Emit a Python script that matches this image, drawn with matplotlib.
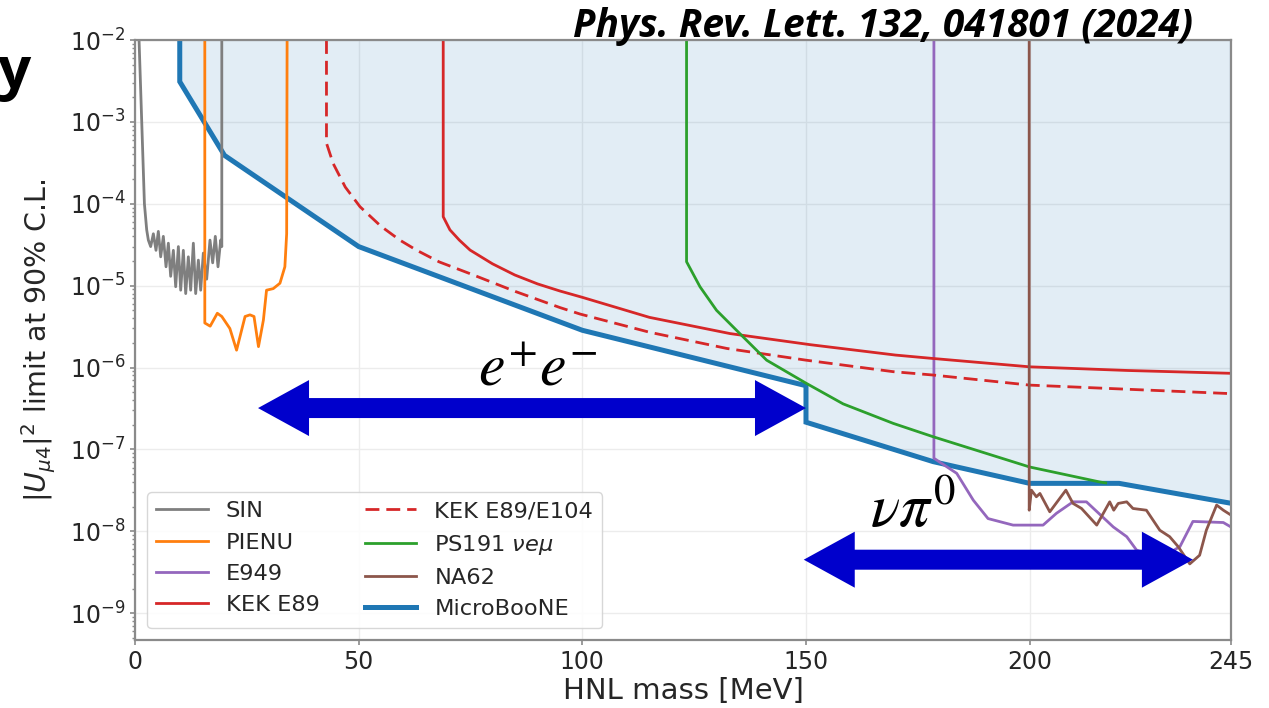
import matplotlib
matplotlib.use('Agg')
import matplotlib.pyplot as plt
from matplotlib.patches import Polygon
from matplotlib.transforms import IdentityTransform
from matplotlib.ticker import LogLocator, NullFormatter, FixedLocator

# ---------------- data (HNL mass [MeV], |U_mu4|^2) ----------------
sin_x = [0.9, 1.5, 2.1, 2.61, 2.98, 3.50, 4.10, 4.69, 5.21, 5.74, 6.33, 6.93, 7.45,
         7.97, 8.57, 9.09, 9.69, 10.21, 10.80, 11.33, 11.92, 12.44, 13.04, 13.56,
         14.16, 14.68, 15.27, 16.02, 16.76, 17.36, 17.95, 18.55, 19.15, 19.4, 19.4]
sin_y = [1e-2, 1e-3, 1e-4, 4.8e-5, 3.6e-5, 3.0e-5, 4.3e-5, 2.7e-5, 4.6e-5, 2.25e-5,
         4.0e-5, 1.7e-5, 3.3e-5, 1.3e-5, 2.7e-5, 9.7e-6, 3.0e-5, 8.8e-6, 2.7e-5,
         8.0e-6, 2.25e-5, 8.8e-6, 3.3e-5, 8.0e-6, 2.05e-5, 8.8e-6, 2.5e-5, 1.2e-5,
         3.6e-5, 1.9e-5, 4.0e-5, 1.7e-5, 3.6e-5, 3.0e-5, 1e-2]

pienu_x = [15.6, 15.6, 16.8, 18.4, 19.4, 21.2, 22.7, 24.6, 25.7, 26.6, 27.6, 28.7,
           29.4, 30.9, 32.4, 33.5, 33.9, 34.0]
pienu_y = [1e-2, 3.5e-6, 3.2e-6, 4.6e-6, 4.2e-6, 3.0e-6, 1.63e-6, 4.2e-6, 4.4e-6,
           4.2e-6, 1.8e-6, 3.8e-6, 8.8e-6, 9.2e-6, 1.07e-5, 1.7e-5, 4.3e-5, 1e-2]

e949_x = [178.6, 178.6, 183.7, 187.4, 190.7, 196.3, 203.0, 206.0, 209.7, 212.7,
          218.7, 221.7, 223.9, 229.0, 233.6, 236.5, 243.3, 245.0]
e949_y = [1e-2, 7.8e-8, 5.1e-8, 2.4e-8, 1.43e-8, 1.19e-8, 1.19e-8, 1.66e-8, 2.29e-8,
          2.29e-8, 1.13e-8, 8.6e-9, 5.9e-9, 4.6e-9, 6.5e-9, 1.32e-8, 1.28e-8, 1.13e-8]

kek_x = [68.9, 68.9, 70.4, 72.5, 74.9, 79.9, 84.9, 90.0, 95.0, 100.0, 115.0, 133.0,
         151.0, 170.0, 178.4, 200.0, 222.0, 245.0]
kek_y = [1e-2, 6.95e-5, 4.8e-5, 3.6e-5, 2.72e-5, 1.85e-5, 1.35e-5, 1.05e-5, 8.6e-6,
         7.2e-6, 4.1e-6, 2.6e-6, 1.9e-6, 1.42e-6, 1.29e-6, 1.02e-6, 9.2e-7, 8.5e-7]

kek104_x = [42.8, 42.8, 44.3, 47.0, 50.3, 55.0, 59.2, 63.0, 68.0, 74.9, 85.0, 95.0,
            99.5, 115.0, 132.3, 150.0, 169.5, 178.4, 200.0, 245.0]
kek104_y = [1e-2, 5.5e-4, 3.1e-4, 1.6e-4, 9.2e-5, 5.3e-5, 3.6e-5, 2.7e-5, 1.95e-5,
            1.4e-5, 8.5e-6, 5.4e-6, 4.5e-6, 2.7e-6, 1.71e-6, 1.23e-6, 8.9e-7, 8.1e-7,
            6.1e-7, 4.8e-7]

ps191_x = [123.3, 123.3, 126.3, 130.0, 135.2, 141.2, 150.1, 158.3, 169.5, 178.4,
           200.0, 215.7, 217.0]
ps191_y = [1e-2, 1.96e-5, 9.7e-6, 5.0e-6, 2.6e-6, 1.23e-6, 6.4e-7, 3.6e-7, 2.08e-7,
           1.43e-7, 6.1e-8, 4.0e-8, 3.9e-8]

na62_x = [199.9, 199.9, 200.4, 201.5, 202.3, 204.5, 208.1, 209.7, 211.6, 215.0,
          217.9, 218.8, 219.8, 221.7, 223.1, 226.1, 229.1, 231.3, 233.2, 235.8,
          238.0, 239.5, 241.8, 243.3, 245.0]
na62_y = [1e-2, 1.81e-8, 3.18e-8, 2.64e-8, 2.9e-8, 1.73e-8, 3.18e-8, 2.19e-8, 1.9e-8,
          1.19e-8, 2.29e-8, 1.81e-8, 2.19e-8, 2.29e-8, 1.9e-8, 1.81e-8, 1.03e-8,
          8.6e-9, 6.5e-9, 4.0e-9, 5.1e-9, 1.03e-8, 2.09e-8, 1.81e-8, 1.58e-8]

ub_x = [10, 10, 20, 50, 100, 150, 150, 178.4, 200, 220, 245]
ub_y = [1e-2, 3.1e-3, 3.9e-4, 3.0e-5, 2.85e-6, 6.0e-7, 2.15e-7, 7.1e-8, 3.85e-8,
        3.85e-8, 2.2e-8]

x_ticks = [0, 50, 100, 150, 200, 245]
y_ticks = [1e-9, 1e-8, 1e-7, 1e-6, 1e-5, 1e-4, 1e-3, 1e-2]
y_range = (4.7e-10, 1e-2)
x_range = (0, 245)

# annotation arrows: (x_start, x_end, y)
arrow_ee = (27.5, 150.0, 3.2e-7)
arrow_npi = (149.5, 236.5, 4.5e-9)
label_ee = (76.7, 6.1e-7)
label_npi = (164.3, 1.12e-8)

# ---------------- figure ----------------
fig = plt.figure(figsize=(12.69, 7.08), dpi=100)
ax = fig.add_axes([0.1064, 0.0960, 0.8636, 0.8475])
ax.set_yscale('log')
ax.set_xlim(*x_range)
ax.set_ylim(*y_range)
ax.set_axisbelow(True)
ax.grid(True, which='major', color='#ececec', lw=1.0)

ax.fill_between(ub_x, ub_y, y_range[1], color='#1f77b4', alpha=0.13, lw=0, zorder=1)
ax.plot([ub_x[-1], ub_x[-1]], [ub_y[-1], y_range[1]], color='#1f5a85', lw=1.5, zorder=1.5)

lw = 2.0
ax.plot(sin_x, sin_y, color='#7f7f7f', lw=lw, label='SIN', zorder=2)
ax.plot(pienu_x, pienu_y, color='#ff7f0e', lw=lw, label='PIENU', zorder=2)
ax.plot(e949_x, e949_y, color='#9467bd', lw=lw, label='E949', zorder=2)
ax.plot(kek_x, kek_y, color='#d62728', lw=lw, label='KEK E89', zorder=2)
ax.plot(kek104_x, kek104_y, color='#d62728', lw=lw, ls=(0, (5, 2.5)),
        label='KEK E89/E104', zorder=2)
ax.plot(ps191_x, ps191_y, color='#2ca02c', lw=lw, label=r'PS191 $\nu e\mu$', zorder=2.1)
ax.plot(na62_x, na62_y, color='#8c564b', lw=lw, label='NA62', zorder=2.1)
ax.plot(ub_x, ub_y, color='#1f77b4', lw=3.6, label='MicroBooNE', zorder=1.9,
        solid_joinstyle='miter')

# axes styling
for sp in ax.spines.values():
    sp.set_color('#8a8a8a')
    sp.set_linewidth(1.6)
ax.xaxis.set_major_locator(FixedLocator(x_ticks))
ax.yaxis.set_major_locator(FixedLocator(y_ticks))
ax.yaxis.set_minor_locator(LogLocator(base=10, subs=range(2, 10), numticks=50))
ax.yaxis.set_minor_formatter(NullFormatter())
ax.tick_params(axis='both', which='major', direction='out', length=3.5, width=1.2,
               color='#8a8a8a', labelsize=17, labelcolor='#262626', pad=3.5)
ax.tick_params(axis='y', which='minor', direction='out', length=2, width=1.0,
               color='#8a8a8a')
ax.set_xlabel('HNL mass [MeV]', fontsize=21, color='#262626', labelpad=2)
ax.set_ylabel(r'$|U_{\mu4}|^2$ limit at 90% C.L.', fontsize=20.5, color='#262626',
              labelpad=8)

leg = ax.legend(ncol=2, loc='lower left', bbox_to_anchor=(0.011, 0.02),
                borderaxespad=0, fontsize=16.2, frameon=True, fancybox=True,
                edgecolor='#d0d0d0', framealpha=0.85, handlelength=2.3,
                columnspacing=2.0)
for t in leg.get_texts():
    t.set_color('#262626')
leg.set_zorder(10)

# double arrows: single polygon per arrow, ends placed through the data transform
HEAD_LEN, HEAD_W, TAIL_W = 51.0, 56.0, 20.0   # pixels
for (xa, xb, yv) in (arrow_ee, arrow_npi):
    (pxa, py), (pxb, _) = ax.transData.transform([(xa, yv), (xb, yv)])
    verts = [
        (pxa, py),
        (pxa + HEAD_LEN, py + HEAD_W / 2), (pxa + HEAD_LEN, py + TAIL_W / 2),
        (pxb - HEAD_LEN, py + TAIL_W / 2), (pxb - HEAD_LEN, py + HEAD_W / 2),
        (pxb, py),
        (pxb - HEAD_LEN, py - HEAD_W / 2), (pxb - HEAD_LEN, py - TAIL_W / 2),
        (pxa + HEAD_LEN, py - TAIL_W / 2), (pxa + HEAD_LEN, py - HEAD_W / 2),
    ]
    poly = Polygon(verts, closed=True, facecolor='#0000cc', edgecolor='none',
                   transform=IdentityTransform(), zorder=8)
    fig.add_artist(poly)

ax.text(*label_ee, r'$e^{+}e^{-}$', fontsize=43, math_fontfamily='stix',
        ha='left', va='baseline', color='black', zorder=9)
ax.text(*label_npi, r'$\nu\pi^{0}$', fontsize=44, math_fontfamily='stix',
        ha='left', va='baseline', color='black', zorder=9)

fig.text(0.940, 0.948, 'Phys. Rev. Lett. 132, 041801 (2024)', ha='right',
         va='baseline', fontsize=28, fontweight='bold', fontstyle='italic',
         family='Open Sans', color='black')
fig.text(0.0245, 0.876, 'y', ha='right', va='baseline', fontsize=42,
         fontweight='bold', family='Open Sans', color='black')

fig.savefig('out.png', dpi=100)
